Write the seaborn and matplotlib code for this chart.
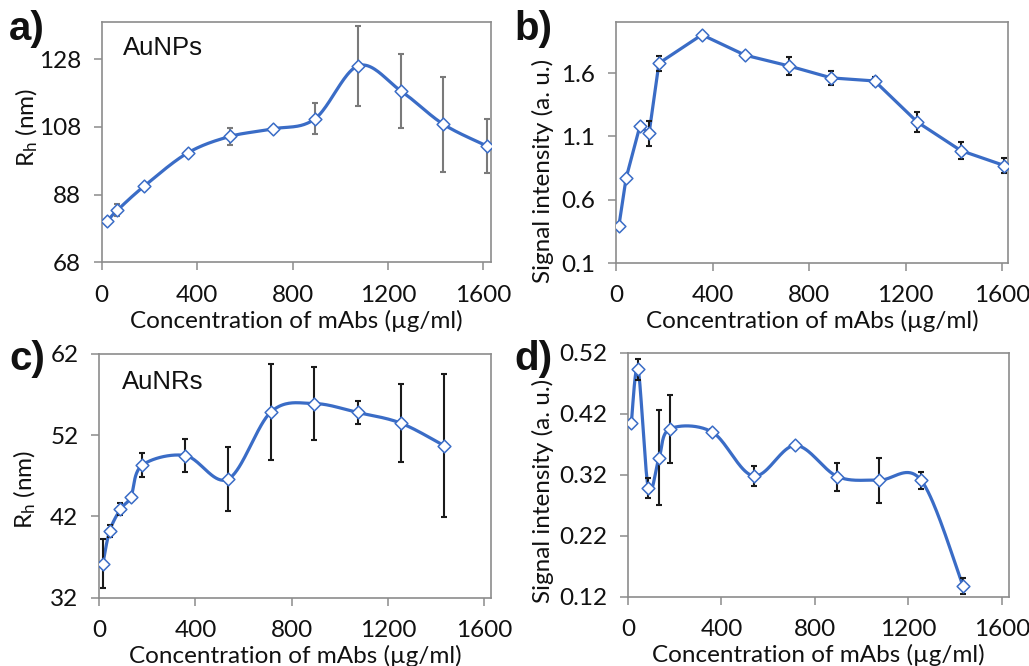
import numpy as np
import pandas as pd
import matplotlib
matplotlib.use("Agg")
import matplotlib.pyplot as plt
import seaborn as sns

sns.set_theme(style="white")
plt.rcParams["font.family"] = ["Lato", "DejaVu Sans"]
plt.rcParams["mathtext.default"] = "regular"

# ---------------- data ----------------
conc_a = [22, 66, 178, 360, 538, 717, 894, 1076, 1255, 1432, 1614]
rh_a = [80.1, 83.4, 90.5, 100.3, 105.2, 107.4, 110.4, 126.1, 118.6, 108.8, 102.4]
err_a = [0, 1.7, 0, 0, 2.6, 0, 4.6, 11.8, 10.9, 14.0, 8.0]

conc_b = [12, 42, 99, 137, 178, 356, 535, 716, 893, 1072, 1249, 1429, 1610]
sig_b = [0.394, 0.772, 1.182, 1.124, 1.679, 1.904, 1.743, 1.658, 1.563, 1.539, 1.214, 0.989, 0.870]
err_b = [0, 0, 0, 0.10, 0.06, 0, 0, 0.074, 0.056, 0.03, 0.082, 0.07, 0.062]

conc_c = [15, 43, 88, 131, 178, 358, 536, 715, 894, 1074, 1253, 1435]
rh_c = [36.2, 40.2, 42.9, 44.4, 48.3, 49.5, 46.6, 54.9, 55.9, 54.8, 53.5, 50.7]
err_c = [3.0, 0.7, 0.7, 0.3, 1.5, 2.0, 3.9, 5.9, 4.5, 1.4, 4.8, 8.8]

conc_d = [14, 43, 87, 133, 179, 360, 537, 716, 896, 1073, 1254, 1433]
sig_d = [0.404, 0.493, 0.298, 0.348, 0.395, 0.390, 0.318, 0.368, 0.317, 0.311, 0.311, 0.138]
err_d = [0, 0.017, 0.016, 0.078, 0.056, 0.005, 0.016, 0, 0.023, 0.037, 0.014, 0.013]

x_ticks = [0, 400, 800, 1200, 1600]
yt_a = [68, 88, 108, 128]
yt_b = [0.1, 0.6, 1.1, 1.6]
yt_c = [32, 42, 52, 62]
yt_d = [0.12, 0.22, 0.32, 0.42, 0.52]
yt_d_lab = ["0.12", "0.22", "0.32", "0.42", "0.52"]

xlabel = "Concentration of mAbs (µg/ml)"
ylab_rh = "R$_h$ (nm)"
ylab_sig = "Signal intensity (a. u.)"

BLUE = "#3A6CC6"
SPINE = "#8C8C8C"

W, H = 1029, 666
fig = plt.figure(figsize=(W / 100, H / 100), dpi=100)


def rect(l, r, t, b):
    return [l / W, 1 - b / H, (r - l) / W, (b - t) / H]


def excel_smooth(x, y, sx, sy, n=40):
    px = np.asarray(x, float) * sx
    py = np.asarray(y, float) * sy
    P = np.column_stack([px, py])
    m = len(P)
    out = []
    for i in range(m - 1):
        p0 = P[i - 1] if i > 0 else P[i]
        p1 = P[i]
        p2 = P[i + 1]
        p3 = P[i + 2] if i + 2 < m else P[i + 1]
        c1 = p1 + (p2 - p0) / 6.0
        c2 = p2 - (p3 - p1) / 6.0
        t = np.linspace(0, 1, n)[:, None]
        seg = ((1 - t) ** 3) * p1 + 3 * ((1 - t) ** 2) * t * c1 + 3 * (1 - t) * t ** 2 * c2 + t ** 3 * p2
        out.append(seg if i == 0 else seg[1:])
    out = np.vstack(out)
    return out[:, 0] / sx, out[:, 1] / sy


def panel(box, x, y, e, xlim, ylim, yticks, ylabels, ylab, smooth, ecolor, ylab_xy):
    l, r, t, b = box
    ax = fig.add_axes(rect(l, r, t, b))
    ax.set_xlim(*xlim)
    ax.set_ylim(*ylim)
    sx = (r - l) / (xlim[1] - xlim[0])
    sy = (b - t) / (ylim[1] - ylim[0])
    if smooth:
        cx, cy = excel_smooth(x, y, sx, sy)
    else:
        cx, cy = np.asarray(x, float), np.asarray(y, float)
    sns.lineplot(x=cx, y=cy, ax=ax, color=BLUE, linewidth=2.3, sort=False,
                 estimator=None, zorder=2)
    xe = [xi for xi, ei in zip(x, e) if ei > 0]
    ye = [yi for yi, ei in zip(y, e) if ei > 0]
    ee = [ei for ei in e if ei > 0]
    ax.errorbar(xe, ye, yerr=ee, fmt="none", ecolor=ecolor, elinewidth=1.5,
                capsize=2.5, capthick=1.5, zorder=3)
    sns.scatterplot(x=x, y=y, ax=ax, marker="D", s=42, color="white",
                    edgecolor=BLUE, linewidth=1.1, zorder=4)
    ax.set_xticks(x_ticks)
    ax.set_xticklabels([str(v) for v in x_ticks])
    ax.set_yticks(yticks)
    ax.set_yticklabels(ylabels)
    for s in ax.spines.values():
        s.set_color(SPINE)
        s.set_linewidth(1.2)
        s.set_visible(True)
    ax.tick_params(axis="both", which="both", direction="out", length=6,
                   width=1.1, color=SPINE, labelsize=17.5, labelcolor="#111111",
                   bottom=True, left=True, top=False, right=False)
    ax.tick_params(axis="x", pad=10)
    ax.tick_params(axis="y", pad=9)
    ax.set_xlabel(xlabel, fontsize=17.5, color="#111111", labelpad=3)
    ax.set_ylabel(ylab, fontsize=17.5, color="#111111", va="center")
    ax.yaxis.set_label_coords(*ylab_xy)
    ax.grid(False)
    return ax


ax_a = panel((101.7, 491, 22, 262.3), conc_a, rh_a, err_a, (0, 1632), (68, 139),
             yt_a, [str(v) for v in yt_a], ylab_rh, True, "#7A7A7A", (-0.192, 0.559))
ax_b = panel((616, 1008.3, 22, 263), conc_b, sig_b, err_b, (0, 1626), (0.1, 2.005),
             yt_b, [str(v) for v in yt_b], ylab_sig, False, "#1A1A1A", (-0.186, 0.382))
ax_c = panel((99.3, 491, 354, 597.7), conc_c, rh_c, err_c, (0, 1629), (32, 62),
             yt_c, [str(v) for v in yt_c], ylab_rh, True, "#1A1A1A", (-0.19, 0.442))
ax_d = panel((628, 1009, 352.7, 596.7), conc_d, sig_d, err_d, (0, 1630), (0.12, 0.52),
             yt_d, yt_d_lab, ylab_sig, True, "#1A1A1A", (-0.223, 0.433))

ax_a.text(123 / W, 1 - 48 / H, "AuNPs", transform=fig.transFigure, fontsize=18.5,
          family=["Liberation Sans"], va="center", ha="left", color="#111111")
ax_c.text(122 / W, 1 - 382 / H, "AuNRs", transform=fig.transFigure, fontsize=18.5,
          family=["Liberation Sans"], va="center", ha="left", color="#111111")

for lab, xx, yy in [("a)", 9, 10), ("b)", 514, 10), ("c)", 9, 340), ("d)", 514, 340)]:
    fig.text(xx / W, 1 - yy / H, lab, fontsize=29, fontweight="bold",
             family=["Liberation Sans"], va="top", ha="left", color="#111111")

fig.savefig("out.png", dpi=100)
